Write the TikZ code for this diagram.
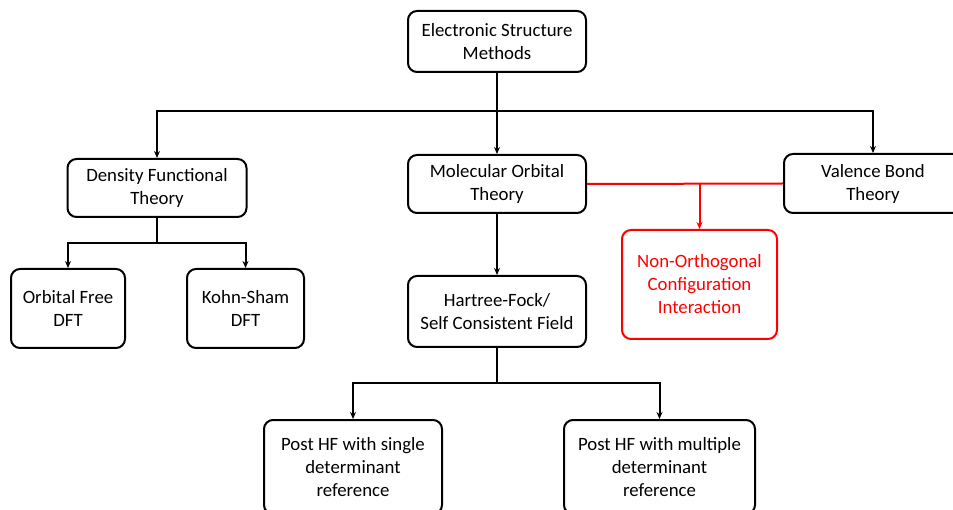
\documentclass[tikz,border=0pt]{standalone}
\usepackage{fontspec}
\setmainfont{Carlito}
\usepackage{xcolor}
\usepackage{tikz}
\usetikzlibrary{arrows.meta}

\begin{document}
\begin{tikzpicture}[x=1pt, y=-1pt,
    box/.style={draw, line width=2pt, rounded corners=9pt, align=center,
        inner sep=0pt, font=\fontsize{18.8}{23}\selectfont},
    link/.style={line width=2pt, -{Stealth[length=7pt,width=6pt]}},
    newbox/.style={box, draw=red, text=red}]
    \useasboundingbox (0,0) rectangle (953,510);

    % top of the tree
    \node[box, minimum width=178pt, minimum height=61pt] (esm) at (497,41.5) {Electronic Structure\\Methods};

    % the three families
    \node[box, minimum width=179pt, minimum height=58pt] (dft) at (157,188) {Density Functional\\Theory};
    \node[box, minimum width=178pt, minimum height=58pt] (mot) at (497,184) {Molecular Orbital\\Theory};
    \node[box, minimum width=178pt, minimum height=59pt] (vb) at (873,183.5) {Valence Bond\\Theory};

    % DFT flavours
    \node[box, minimum width=114pt, minimum height=79pt] (ofdft) at (68,308.5) {Orbital Free\\DFT};
    \node[box, minimum width=117pt, minimum height=79pt] (ksdft) at (245.5,308.5) {Kohn-Sham\\DFT};

    % wave function side
    \node[box, minimum width=178pt, minimum height=71pt] (hf) at (497,311.5) {Hartree-Fock/\\Self Consistent Field};
    \node[newbox, minimum width=155pt, minimum height=109pt] (noci) at (699.5,284.5) {Non-Orthogonal\\Configuration\\Interaction};
    \node[box, minimum width=178pt, minimum height=94pt] (single) at (353,467) {Post HF with single\\determinant\\reference};
    \node[box, minimum width=191pt, minimum height=94pt] (multi) at (659.5,467) {Post HF with multiple\\determinant\\reference};

    % branching points
    \coordinate (split1) at (497,111);
    \coordinate (split2) at (157,243);
    \coordinate (split3) at (497,383);

    \draw[line width=2pt] (esm.south) -- (split1);
    \foreach \child in {dft, mot, vb} {
        \draw[link] (split1) -| (\child.north);
    }
    \draw[line width=2pt] (dft.south) -- (split2);
    \foreach \child in {ofdft, ksdft} {
        \draw[link] (split2) -| (\child.north);
    }
    \draw[link] (mot.south) -- (hf.north);
    \draw[line width=2pt] (hf.south) -- (split3);
    \foreach \child in {single, multi} {
        \draw[link] (split3) -| (\child.north);
    }

    % red link between MO and VB
    \draw[line width=2pt, red] (mot.east) -- (vb.west);
    \draw[link, red] (noci.north |- vb.west) -- (noci.north);
\end{tikzpicture}
\end{document}
